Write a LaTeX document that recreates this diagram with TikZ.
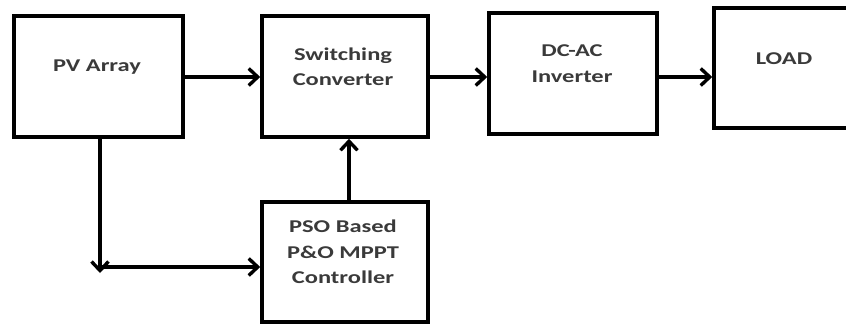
\documentclass[tikz,border=0pt]{standalone}
\usepackage{fontspec}
\setmainfont[FakeStretch=1.36]{Carlito}
\usetikzlibrary{arrows.meta}
\definecolor{txt}{HTML}{3A3A3A}
\tikzset{
  blk/.style={draw=black, line width=3.6pt, minimum width=#1, inner sep=0pt},
  lbl/.style={text=txt, font=\fontsize{18}{25.5}\selectfont\bfseries, align=center, inner sep=0pt},
  arr/.style={line width=3.6pt, -{Straight Barb[length=9pt,width=17pt,line width=3.4pt]}},
}
\begin{document}
\begin{tikzpicture}[x=1pt,y=-1pt]
\useasboundingbox (0,0) rectangle (846,324);
\clip (0,0) rectangle (846,324);
% boxes
\node[blk=169pt, minimum height=121pt] (pv) at (98.5,76.5) {};
\node[blk=166pt, minimum height=121pt] (sw) at (345,76.5) {};
\node[blk=168pt, minimum height=121pt] (dc) at (573,73.5) {};
\node[blk=142pt, minimum height=120pt] (ld) at (785,68) {};
\node[blk=166pt, minimum height=120pt] (pso) at (345,262) {};
% labels
\node[lbl] (pvt) at (97,67) {PV Array};
\node[lbl] (swt) at (343,66.5) {Switching\\Converter};
\node[lbl] (dct) at (572,63.5) {DC-AC\\Inverter};
\node[lbl] (ldt) at (784,59) {LOAD};
\node[lbl] (psot) at (343,252) {PSO Based\\P\&O MPPT\\Controller};
% connectors
\coordinate (j) at (100,273);
\coordinate (h) at (100,267);
\draw[arr] (pv.east |- 0,77) -- (sw.west |- 0,77);
\draw[arr] (sw.east |- 0,77) -- (dc.west |- 0,77);
\draw[arr] (dc.east |- 0,77) -- (ld.west |- 0,77);
\draw[arr] ([xshift=4pt]pso.north) -- ([xshift=4pt]sw.south);
\draw[arr] (pv.south -| j) -- (j);
\draw[arr] (h) -- (pso.west |- h);
\end{tikzpicture}
\end{document}
